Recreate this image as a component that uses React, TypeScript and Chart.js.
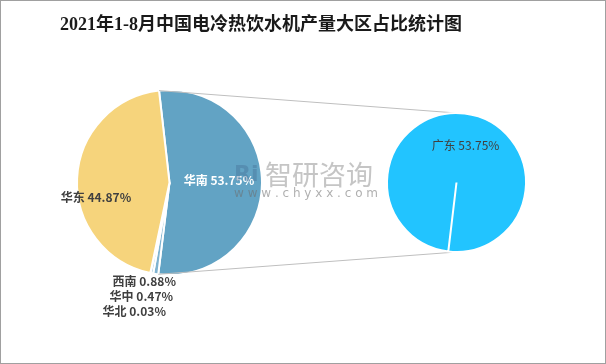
import { useEffect, useRef } from 'react';
import { Chart, registerables } from 'chart.js';

Chart.register(...registerables);

const chartTitle = '2021年1-8月中国电冷热饮水机产量大区占比统计图';
const regions = ['华南', '西南', '华中', '华北', '华东'];
const regionShares = [53.75, 0.88, 0.47, 0.03, 44.87];
const regionColors = ['#62a3c4', '#7fb3d0', '#9cc6dd', '#b8d7e8', '#f6d47c'];
const provinces = ['广东'];
const provinceShares = [53.75];
const provinceColors = ['#22c4ff'];

// label anchor offsets, in units of the pie radius, relative to the pie centre
const leftLabelLayout = [
  { dx: 0.535, dy: -0.027, align: 'center', color: '#ffffff' },
  { dx: 0.07, dy: 1.065, align: 'right', color: '#404040' },
  { dx: 0.038, dy: 1.227, align: 'right', color: '#404040' },
  { dx: -0.038, dy: 1.389, align: 'right', color: '#404040' },
  { dx: -0.795, dy: 0.157, align: 'center', color: '#404040' },
];
const rightLabelLayout = [{ dx: 0.13, dy: -0.54, align: 'center', color: '#404040' }];

const CJK = '"Noto Sans CJK SC", "Noto Sans", sans-serif';

function labelPlugin(id: string, layout: any[], weight: string) {
  return {
    id,
    afterDatasetsDraw(chart: any) {
      const meta = chart.getDatasetMeta(0);
      const labels = chart.data.labels as string[];
      const values = chart.data.datasets[0].data as number[];
      const ctx = chart.ctx;
      ctx.save();
      ctx.font = `${weight} 12px ${CJK}`;
      ctx.textBaseline = 'middle';
      meta.data.forEach((arc: any, i: number) => {
        const l = layout[i];
        if (!l) return;
        const { x, y, outerRadius } = arc.getProps(['x', 'y', 'outerRadius'], true);
        ctx.fillStyle = l.color;
        ctx.textAlign = l.align;
        ctx.fillText(`${labels[i]} ${values[i].toFixed(2)}%`, x + l.dx * outerRadius, y + l.dy * outerRadius);
      });
      ctx.restore();
    },
  };
}

export default function App() {
  const aRef = useRef<HTMLCanvasElement>(null);
  const bRef = useRef<HTMLCanvasElement>(null);

  useEffect(() => {
    const left = new Chart(aRef.current!, {
      type: 'pie',
      data: {
        labels: regions,
        datasets: [{ data: regionShares, backgroundColor: regionColors, borderColor: '#ffffff', borderWidth: 2 }],
      },
      options: {
        responsive: false,
        animation: false,
        rotation: -6.5,
        layout: { padding: { left: 76, right: 343, top: 89, bottom: 88 } },
        plugins: { legend: { display: false }, tooltip: { enabled: false } },
        events: [],
      },
      plugins: [
        {
          id: 'titleText',
          afterDraw(chart: any) {
            const ctx = chart.ctx;
            ctx.save();
            ctx.font = `bold 18px "Liberation Serif", "Noto Sans CJK SC", serif`;
            ctx.fillStyle = '#1a1a1a';
            ctx.textAlign = 'center';
            ctx.textBaseline = 'middle';
            ctx.fillText(chartTitle, 261, 25);
            ctx.restore();
          },
        },
        labelPlugin('leftLabels', leftLabelLayout, 'bold'),
      ],
    } as any);

    const right = new Chart(bRef.current!, {
      type: 'pie',
      data: {
        labels: provinces,
        datasets: [{ data: provinceShares, backgroundColor: provinceColors, borderColor: '#ffffff', borderWidth: 2 }],
      },
      options: {
        responsive: false,
        animation: false,
        rotation: 186.8,
        layout: { padding: { left: 386, right: 79, top: 112, bottom: 111 } },
        plugins: { legend: { display: false }, tooltip: { enabled: false } },
        events: [],
      },
      plugins: [
        {
          id: 'connectors',
          beforeDatasetsDraw(chart: any) {
            const la = left.getDatasetMeta(0).data[0] as any;
            const lp = la.getProps(['x', 'y', 'startAngle', 'endAngle', 'outerRadius'], true);
            const ra = chart.getDatasetMeta(0).data[0] as any;
            const rp = ra.getProps(['x', 'y', 'outerRadius'], true);
            const ctx = chart.ctx;
            ctx.save();
            ctx.strokeStyle = '#bfbfbf';
            ctx.lineWidth = 1;
            ctx.beginPath();
            ctx.moveTo(lp.x + lp.outerRadius * Math.cos(lp.startAngle), lp.y + lp.outerRadius * Math.sin(lp.startAngle));
            ctx.lineTo(rp.x, rp.y - rp.outerRadius);
            ctx.moveTo(lp.x + lp.outerRadius * Math.cos(lp.endAngle), lp.y + lp.outerRadius * Math.sin(lp.endAngle));
            ctx.lineTo(rp.x, rp.y + rp.outerRadius);
            ctx.stroke();
            ctx.restore();
          },
        },
        labelPlugin('rightLabels', rightLabelLayout, 'normal'),
        {
          id: 'watermark',
          afterDraw(chart: any) {
            const ctx = chart.ctx;
            ctx.save();
            ctx.textBaseline = 'middle';
            ctx.fillStyle = 'rgba(70,110,150,0.4)';
            ctx.font = `bold 22px "DejaVu Sans", sans-serif`;
            ctx.textAlign = 'left';
            ctx.fillText('Ri', 234, 175);
            ctx.fillStyle = 'rgba(150,150,150,0.55)';
            ctx.font = `27px ${CJK}`;
            ctx.fillText('智研咨询', 265, 175);
            ctx.font = `12px "DejaVu Sans", sans-serif`;
            ctx.fillStyle = 'rgba(110,110,110,0.55)';
            ctx.fillText('w w w . c h y x x . c o m', 234, 194);
            ctx.restore();
          },
        },
      ],
    } as any);

    return () => {
      right.destroy();
      left.destroy();
    };
  }, []);

  return (
    <div style={{ position: 'fixed', left: 0, top: 0, width: 606, height: 364, background: '#ffffff' }}>
      <canvas ref={aRef} width={606} height={364} style={{ position: 'absolute', left: 0, top: 0 }} />
      <canvas ref={bRef} width={606} height={364} style={{ position: 'absolute', left: 0, top: 0 }} />
      <div
        style={{
          position: 'absolute',
          left: 0,
          top: 0,
          width: 606,
          height: 364,
          border: '1px solid #a0a0a0',
          boxSizing: 'border-box',
          pointerEvents: 'none',
        }}
      />
    </div>
  );
}
